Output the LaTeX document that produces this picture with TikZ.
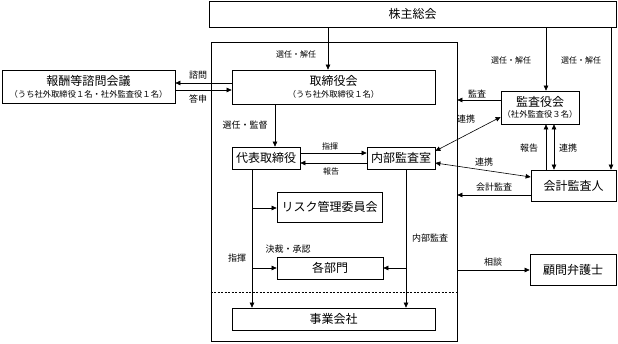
\documentclass[tikz,border=0pt]{standalone}
\usepackage{fontspec}
\setmainfont{Noto Sans CJK JP}
\usetikzlibrary{arrows.meta}
\tikzset{
  box/.style={draw, line width=0.7pt, inner sep=0pt, anchor=center, align=center, font=\fontsize{12}{13}\selectfont},
  arr/.style={line width=0.6pt, -{Triangle[length=5pt,width=4.5pt]}},
  darr/.style={line width=0.6pt, {Triangle[length=5pt,width=4.5pt]}-{Triangle[length=5pt,width=4.5pt]}},
  ln/.style={line width=0.6pt},
  lbl/.style={font=\fontsize{9}{10}\selectfont, inner sep=0pt},
  slbl/.style={font=\fontsize{8}{9}\selectfont, inner sep=0pt},
}
\newcommand{\subtxt}[1]{{\fontsize{8.3}{10}\selectfont #1}}
\begin{document}
\begin{tikzpicture}[x=1pt,y=-1pt]
\useasboundingbox (0,0) rectangle (618,344);
% boxes
\node[box, minimum width=407, minimum height=26] (kabu) at (412.5,14) {株主総会};
\node[box, minimum width=246, minimum height=299] (frame) at (334,191.5) {};
\node[box, minimum width=173, minimum height=33] (houshu) at (88.5,86.5) {報酬等諮問会議\\[-1pt]\subtxt{（うち社外取締役１名・社外監査役１名）}};
\node[box, minimum width=203, minimum height=34] (tori) at (333.5,87) {取締役会\\[-1pt]\subtxt{（うち社外取締役１名）}};
\node[box, minimum width=78, minimum height=33] (kansa) at (540,107.5) {監査役会\\[-1.5pt]\subtxt{（社外監査役３名）}};
\node[box, minimum width=68, minimum height=22] (naibu) at (401,158) {内部監査室};
\node[box, minimum width=68, minimum height=22] (daihyo) at (266,158) {代表取締役};
\node[box, minimum width=85, minimum height=31] (kaikei) at (573.5,185.5) {会計監査人};
\node[box, minimum width=105, minimum height=30] (risk) at (329.5,207) {リスク管理委員会};
\node[box, minimum width=106, minimum height=22] (kakubu) at (330,268) {各部門};
\node[box, minimum width=203, minimum height=22] (jigyo) at (333.5,319) {事業会社};
\node[box, minimum width=86, minimum height=31] (komon) at (573,269.5) {顧問弁護士};
% dashed divider
\draw[ln, dashed, dash pattern=on 2pt off 1.5pt] (frame.west |- 0,292) -- (frame.east |- 0,292);
% connectors
\draw[arr] (328,0 |- kabu.south) -- (328,0 |- tori.north);
\draw[arr] (546,0 |- kabu.south) -- (546,0 |- kansa.north);
\draw[arr] (611,0 |- kabu.south) -- (611,0 |- kaikei.north);
\draw[arr] (tori.west |- 0,83) -- (houshu.east |- 0,83);
\draw[arr] (houshu.east |- 0,90) -- (tori.west |- 0,90);
\draw[arr] (275,0 |- tori.south) -- (275,0 |- daihyo.north);
\draw[arr] (daihyo.east |- 0,153) -- (naibu.west |- 0,153);
\draw[arr] (naibu.west |- 0,163) -- (daihyo.east |- 0,163);
\draw[arr] (kansa.west |- 0,100) -- (frame.east |- 0,100);
\draw[darr] (naibu.east |- 0,151) -- (kansa.west |- 0,117);
\draw[darr] (naibu.east |- 0,163) -- (kaikei.west |- 0,177);
\draw[arr] (kaikei.west |- 0,195) -- (frame.east |- 0,195);
\draw[arr] (546,0 |- kaikei.north) -- (546,0 |- kansa.south);
\draw[darr] (554,0 |- kaikei.north) -- (554,0 |- kansa.south);
\draw[arr] (252,0 |- daihyo.south) -- (252,0 |- jigyo.north);
\draw[arr] (252,208) -- (risk.west |- 0,208);
\draw[arr] (252,268) -- (kakubu.west);
\draw[arr] (406,0 |- naibu.south) -- (406,0 |- jigyo.north);
\draw[arr] (406,268) -- (kakubu.east);
\draw[arr] (frame.east |- 0,270) -- (komon.west |- 0,270);
% labels
\node[slbl] (l1) at (296,54) {選任・解任};
\node[slbl] (l2) at (511,60) {選任・解任};
\node[slbl] (l3) at (581,60) {選任・解任};
\node[lbl] (l4) at (198,75) {諮問};
\node[lbl] (l5) at (198,99) {答申};
\node[lbl] (l6) at (245,125) {選任・監督};
\node[lbl] (l7) at (477,94) {監査};
\node[lbl] (l8) at (466,119) {連携};
\node[slbl] (l9) at (330,146) {指揮};
\node[slbl] (l10) at (331,171) {報告};
\node[lbl] (l11) at (484,162) {連携};
\node[lbl] (l12) at (494,187) {会計監査};
\node[lbl] (l13) at (529,148) {報告};
\node[lbl] (l14) at (568,148) {連携};
\node[lbl] (l15) at (430,238) {内部監査};
\node[lbl] (l16) at (237,258) {指揮};
\node[lbl] (l17) at (288,249) {決裁・承認};
\node[lbl] (l18) at (493,262) {相談};
\end{tikzpicture}
\end{document}
